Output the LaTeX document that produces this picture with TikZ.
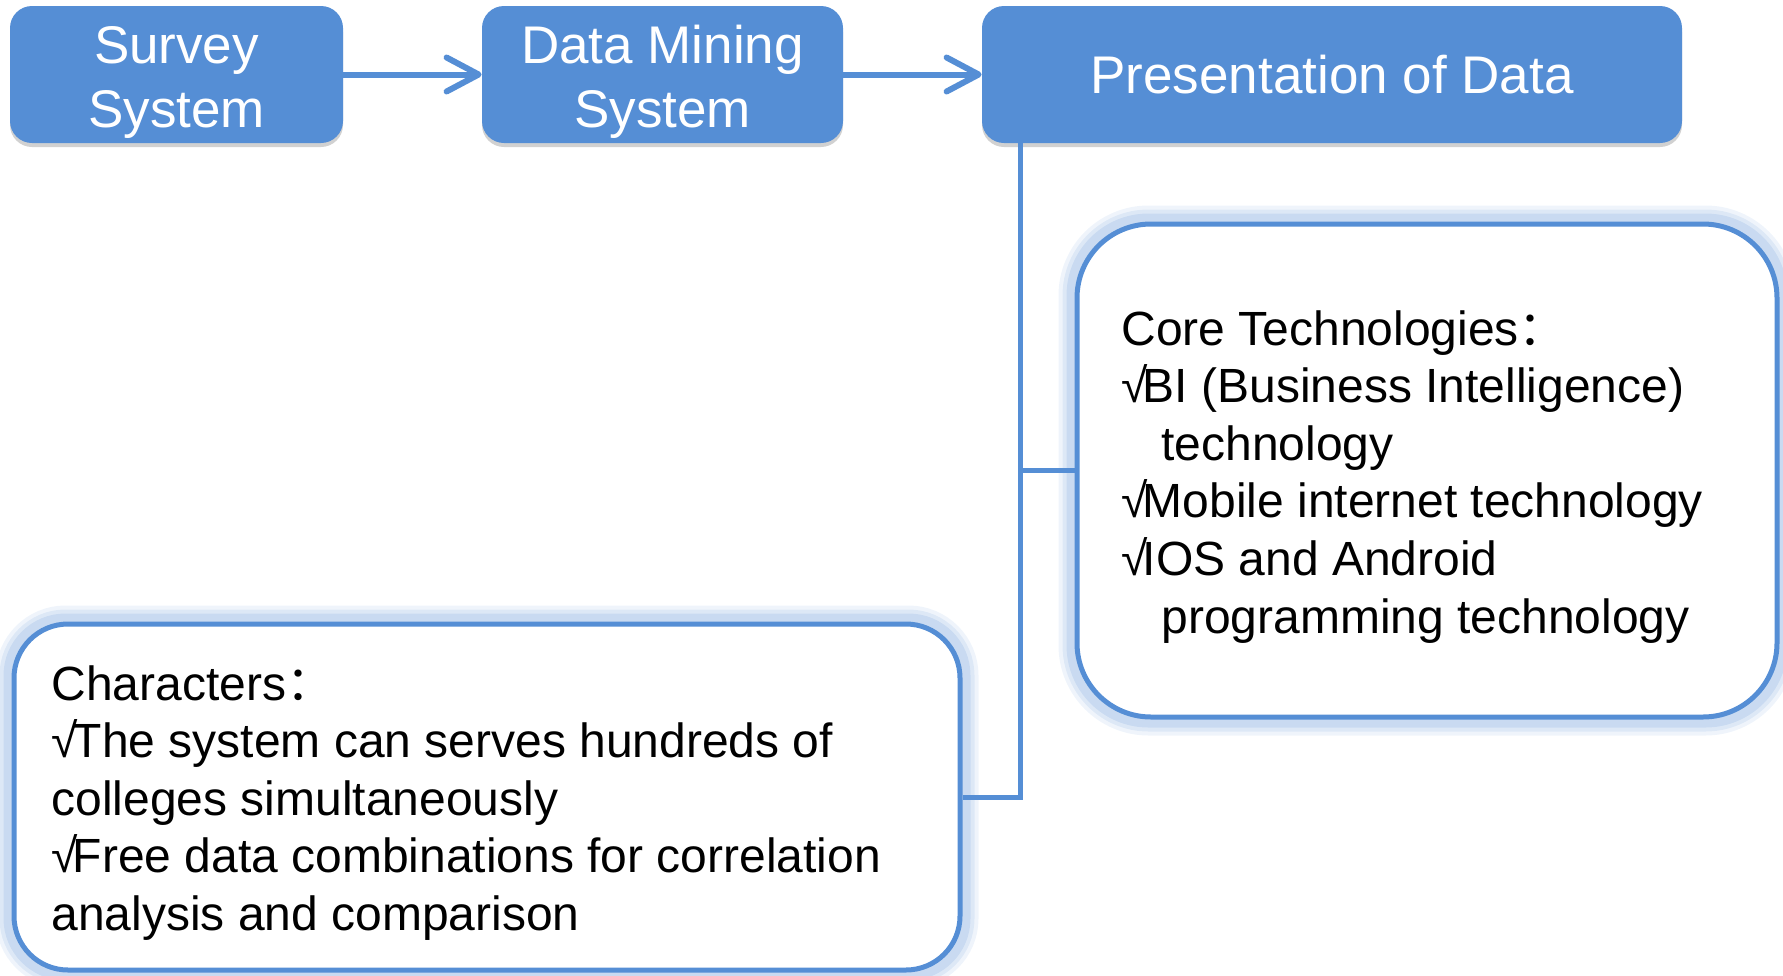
\documentclass[tikz,border=0pt]{standalone}
\usepackage{fontspec}
\setmainfont{Liberation Sans}
\newfontfamily\cjkfont{Noto Sans CJK SC}
\usetikzlibrary{arrows.meta,shadows,backgrounds}

\definecolor{boxblue}{HTML}{558ED5}
\definecolor{glowblue}{HTML}{7FA8DE}

% tick mark before each item, full-width colon, one text line
\newcommand\chk{√\kern-2.5pt}
\newcommand\fwcolon{{\cjkfont ：}}
\newcommand\row[1]{\hbox{#1}}
% two centred lines, set a little lower than the geometric centre
\newcommand\twolines[2]{\raisebox{-4pt}[\height][\depth]{\begin{tabular}{@{}c@{}}#1\\#2\end{tabular}}}

\tikzset{
  topbox/.style={fill=boxblue, draw=none, rounded corners=11pt, text=white,
    font=\fontsize{26.5}{32}\selectfont, align=center, inner sep=0pt,
    drop shadow={shadow xshift=0pt, shadow yshift=-2pt, opacity=0.18, fill=black}},
  outbox/.style={draw=boxblue, line width=2.5pt, fill=white, inner sep=0pt},
  flow/.style={draw=boxblue, line width=3pt, line cap=round,
    -{Straight Barb[length=16pt, width=17pt, round]}},
  conn/.style={draw=boxblue, line width=2.5pt},
  bodytext/.style={font=\fontsize{24}{28.8}\selectfont, text=black, inner sep=0pt, anchor=base west},
}

\begin{document}
\begin{tikzpicture}[x=0.5pt, y=-0.5pt]
  \useasboundingbox (0,0) rectangle (1783,975);

  % pipeline of the three systems
  \node[topbox, minimum width=166.5pt, minimum height=68.5pt] (survey) at (176.5,74.5) {\twolines{Survey}{System}};
  \node[topbox, minimum width=180.5pt, minimum height=68.5pt] (mining) at (662.5,74.5) {\twolines{Data Mining}{System}};
  \node[topbox, minimum width=350pt, minimum height=68.5pt] (pres) at (1332,74.5) {Presentation of Data};

  \draw[flow] (survey.east) -- (mining.west);
  \draw[flow] (mining.east) -- (pres.west);

  % description panels
  \node[outbox, rounded corners=37pt, minimum width=350pt, minimum height=246.5pt] (core) at (1427,470.5) {};
  \node[outbox, rounded corners=27pt, minimum width=473pt, minimum height=173pt] (chars) at (487,797) {};

  % soft halo round the panels
  \begin{scope}[on background layer]
    \foreach \w/\o in {16/0.12, 12/0.16, 8/0.22}{
      \draw[glowblue, line width=\w pt, opacity=\o, rounded corners=37pt]
        (core.north west) rectangle (core.south east);
      \draw[glowblue, line width=\w pt, opacity=\o, rounded corners=27pt]
        (chars.north west) rectangle (chars.south east);
    }
  \end{scope}

  % bracket joining the panels to the presentation layer
  \coordinate (j) at (1020,0);
  \draw[conn] (pres.south -| j) -- (j |- chars.east) -- (chars.east);
  \draw[conn] (j |- core.west) -- (core.west);

  % panel texts
  \node[bodytext] (coretext) at (1121,345) {\vtop{\baselineskip=28.8pt
    \row{Core Technologies\fwcolon}
    \row{\chk BI (Business Intelligence)}
    \row{\hspace*{20pt}technology}
    \row{\chk Mobile internet technology}
    \row{\chk IOS and Android}
    \row{\hspace*{20pt}programming technology}}};

  \node[bodytext] (charstext) at (51,700) {\vtop{\baselineskip=28.8pt
    \row{Characters\fwcolon}
    \row{\chk The system can serves hundreds of}
    \row{colleges simultaneously}
    \row{\chk Free data combinations for correlation}
    \row{analysis and comparison}}};
\end{tikzpicture}
\end{document}
